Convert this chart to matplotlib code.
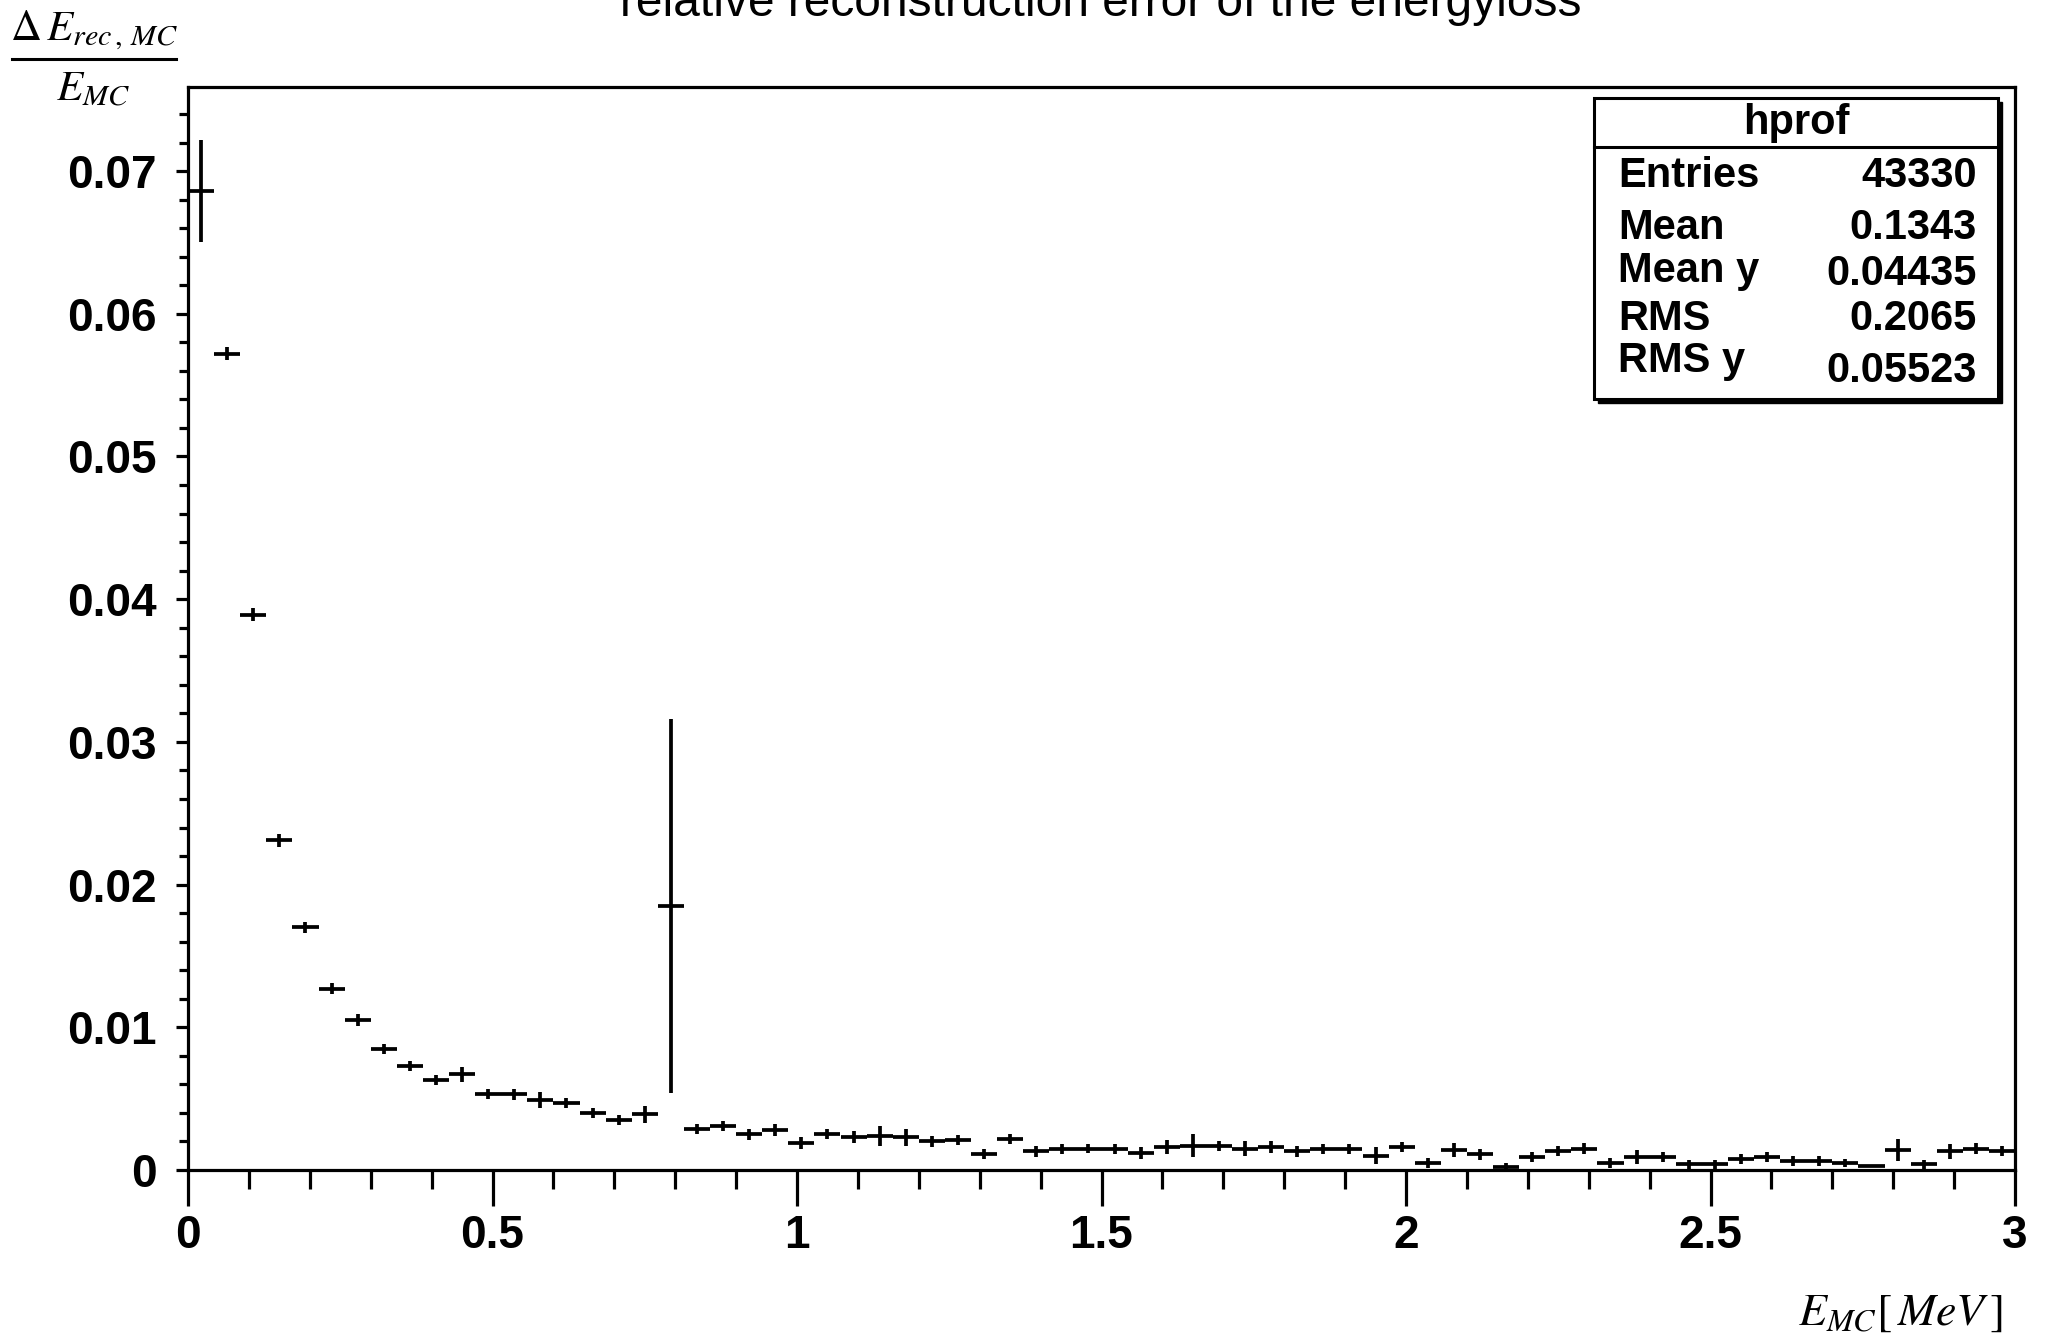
import numpy as np
import matplotlib
matplotlib.use('Agg')
import matplotlib.pyplot as plt
from matplotlib.patches import Rectangle
from matplotlib.lines import Line2D
from matplotlib.ticker import MultipleLocator

# profile histogram: 70 bins on [0, 3] MeV
NBINS = 70
X_MIN, X_MAX = 0.0, 3.0

PROFILE = [0.0686, 0.0572, 0.0389, 0.0231, 0.0170, 0.0127, 0.0105, 0.0085, 0.0073, 0.0063,
           0.0067, 0.0053, 0.0053, 0.0049, 0.0047, 0.0040, 0.0035, 0.0039, 0.0185, 0.0029,
           0.0031, 0.0025, 0.0028, 0.0019, 0.0025, 0.0023, 0.0024, 0.0023, 0.0020, 0.0021,
           0.0011, 0.0022, 0.0013, 0.0015, 0.0015, 0.0015, 0.0012, 0.0016, 0.0017, 0.0017,
           0.0015, 0.0016, 0.0013, 0.0015, 0.0015, 0.0010, 0.0016, 0.0005, 0.0014, 0.0011,
           0.0002, 0.0009, 0.0013, 0.0015, 0.0005, 0.0009, 0.0009, 0.0004, 0.0004, 0.0008,
           0.0009, 0.0006, 0.0006, 0.0005, 0.0003, 0.0014, 0.0004, 0.0013, 0.0015, 0.0013]

ERRORS = [0.0036, 0.00045, 0.00045, 0.00045, 0.0004, 0.0004, 0.0004, 0.00035, 0.00035, 0.00035,
          0.0005, 0.00035, 0.0004, 0.00055, 0.00035, 0.00035, 0.00035, 0.0006, 0.0131, 0.00035,
          0.00035, 0.0004, 0.0004, 0.0004, 0.00035, 0.0004, 0.0007, 0.0006, 0.0004, 0.00035,
          0.00035, 0.00035, 0.0004, 0.00035, 0.0003, 0.00035, 0.0004, 0.0005, 0.0008, 0.00035,
          0.0005, 0.0004, 0.0004, 0.00035, 0.00035, 0.0006, 0.00035, 0.00035, 0.0005, 0.0004,
          0.0003, 0.00035, 0.00035, 0.0004, 0.00035, 0.0005, 0.00035, 0.0003, 0.0003, 0.00035,
          0.00035, 0.00035, 0.00035, 0.0003, 0.0000, 0.0008, 0.0003, 0.0005, 0.0004, 0.00035]

X_TICKS = [0, 0.5, 1, 1.5, 2, 2.5, 3]
X_TICK_LABELS = ["0", "0.5", "1", "1.5", "2", "2.5", "3"]
Y_TICKS = [0, 0.01, 0.02, 0.03, 0.04, 0.05, 0.06, 0.07]
Y_TICK_LABELS = ["0", "0.01", "0.02", "0.03", "0.04", "0.05", "0.06", "0.07"]

STAT_NAMES = ["Entries", "Mean", "Mean y", "RMS", "RMS y"]
STAT_VALUES = ["43330", "0.1343", "0.04435", "0.2065", "0.05523"]

plt.rcParams['mathtext.fontset'] = 'stix'

W, H = 2045, 1337
fig = plt.figure(figsize=(W / 100, H / 100), dpi=100)


def fx(px):
    return px / W


def fy(py):
    return 1 - py / H


ax = fig.add_axes([fx(188), fy(1170), fx(2015) - fx(188), fy(87) - fy(1170)])

edges = np.linspace(X_MIN, X_MAX, NBINS + 1)
centers = 0.5 * (edges[:-1] + edges[1:])
ax.errorbar(centers, PROFILE, xerr=(edges[1] - edges[0]) / 2, yerr=ERRORS,
            fmt='none', ecolor='black', elinewidth=2.7, capsize=0)

ax.set_xlim(X_MIN, X_MAX)
ax.set_ylim(0, 0.07589)

bold = dict(family='Liberation Sans', weight='bold', size=33)
ax.set_xticks(X_TICKS)
ax.set_xticklabels(X_TICK_LABELS, fontdict=bold)
ax.set_yticks(Y_TICKS)
ax.set_yticklabels(Y_TICK_LABELS, fontdict=bold)
ax.xaxis.set_minor_locator(MultipleLocator(0.1))
ax.yaxis.set_minor_locator(MultipleLocator(0.002))
ax.tick_params(axis='x', which='major', direction='out', length=26, width=2.3, pad=6)
ax.tick_params(axis='x', which='minor', direction='out', length=13.5, width=2.3)
ax.tick_params(axis='y', which='major', direction='out', length=8.5, width=2.3, pad=14)
ax.tick_params(axis='y', which='minor', direction='out', length=6.5, width=2.3)
for s in ax.spines.values():
    s.set_linewidth(2.3)

# title, cut off at the top like the original, centred over the frame
fig.text(fx(1101), fy(16), "relative reconstruction error of the energyloss",
         ha='center', va='baseline', family='Liberation Sans', size=34.5)

# y axis title as a fraction
fig.text(fx(94), fy(40), r'$\Delta\,E_{rec\,,\,MC}$', ha='center', va='baseline', size=31)
fig.lines.append(Line2D([fx(12), fx(176)], [fy(59), fy(59)], transform=fig.transFigure,
                        color='black', linewidth=2.2))
fig.text(fx(93), fy(101), r'$E_{MC}$', ha='center', va='baseline', size=31)

fig.text(fx(2002), fy(1325), r'$E_{MC}[\,MeV\,]$', ha='right', va='baseline', size=33)

# stats box
bx0, by0, bx1, by1 = 1594, 98, 1998, 399
fig.patches.append(Rectangle((fx(bx0 + 4), fy(by1 + 4)), fx(bx1) - fx(bx0), fy(by0) - fy(by1),
                             transform=fig.transFigure, facecolor='black', edgecolor='black'))
fig.patches.append(Rectangle((fx(bx0), fy(by1)), fx(bx1) - fx(bx0), fy(by0) - fy(by1),
                             transform=fig.transFigure, facecolor='white', edgecolor='black',
                             linewidth=2.2))
fig.lines.append(Line2D([fx(bx0), fx(bx1)], [fy(147), fy(147)], transform=fig.transFigure,
                        color='black', linewidth=2.2))

stat_font = dict(family='Liberation Sans', weight='bold', size=30)
fig.text(fx(1796), fy(134), "hprof", ha='center', va='baseline', **stat_font)
name_base = [187, 239, 282, 330, 372]
value_base = [187, 239, 285, 330, 382]
for name, val, nb, vb in zip(STAT_NAMES, STAT_VALUES, name_base, value_base):
    fig.text(fx(1618), fy(nb), name, ha='left', va='baseline', **stat_font)
    fig.text(fx(1977), fy(vb), val, ha='right', va='baseline', **stat_font)

fig.savefig('out.png', dpi=100)
